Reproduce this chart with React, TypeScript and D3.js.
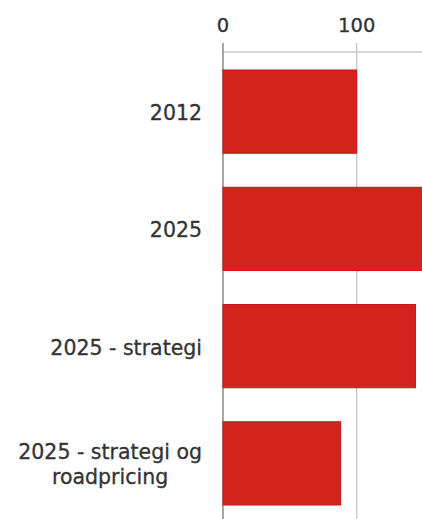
import React, { useEffect, useRef } from 'react';
import * as d3 from 'd3';

const categories = ['2012', '2025', '2025 - strategi', '2025 - strategi og\nroadpricing'];
const values = [100, 152, 144, 88];
const tickValues = [0, 100];
const gridValues = [0, 100, 200];

const App: React.FC = () => {
  const svgRef = useRef<SVGSVGElement | null>(null);

  useEffect(() => {
    if (!svgRef.current) return;
    const svg = d3.select(svgRef.current);
    svg.selectAll('*').remove();

    const width = 422;
    const height = 519;
    const axisY = 52;
    const font = '"DejaVu Sans", Verdana, sans-serif';

    const x = d3.scaleLinear().domain([0, 100]).range([223, 356.7]);
    const y = d3.scaleBand<string>()
      .domain(categories)
      .range([53, 522])
      .paddingInner(0.29)
      .paddingOuter(0.145);

    // axis baseline
    svg.append('line')
      .attr('x1', x(0)).attr('x2', width)
      .attr('y1', axisY).attr('y2', axisY)
      .attr('stroke', '#c8c8c8').attr('stroke-width', 1.5);

    // gridlines / ticks
    svg.selectAll('.grid')
      .data(gridValues)
      .enter()
      .append('line')
      .attr('x1', d => x(d)).attr('x2', d => x(d))
      .attr('y1', axisY - 9).attr('y2', height)
      .attr('stroke', d => (d === 0 ? '#8a8a8a' : '#cccccc'))
      .attr('stroke-width', 1.5);

    svg.selectAll('.tick-label')
      .data(tickValues)
      .enter()
      .append('text')
      .attr('x', d => x(d))
      .attr('y', 32)
      .attr('text-anchor', 'middle')
      .attr('font-family', font)
      .attr('font-size', 19.5)
      .attr('fill', '#333')
      .attr('stroke', '#333')
      .attr('stroke-width', 0.3)
      .text(d => String(d));

    // bars
    svg.selectAll('.bar')
      .data(values)
      .enter()
      .append('rect')
      .attr('x', x(0))
      .attr('y', (_, i) => y(categories[i]) as number)
      .attr('width', d => x(d) - x(0))
      .attr('height', y.bandwidth())
      .attr('fill', '#d2231c')
      .attr('stroke', '#c8161a')
      .attr('stroke-width', 1);

    // category labels, multi-line centred, block right-aligned
    const labelRight = 202;
    const lineH = 25;
    categories.forEach(c => {
      const lines = c.split('\n');
      const cy = (y(c) as number) + y.bandwidth() / 2;
      const t = svg.append('text')
        .attr('text-anchor', 'middle')
        .attr('font-family', font)
        .attr('font-size', 20.5)
        .attr('fill', '#333')
        .attr('stroke', '#333')
        .attr('stroke-width', 0.3);
      lines.forEach((ln, i) => {
        t.append('tspan')
          .attr('x', 0)
          .attr('y', cy + 8.5 + (i - (lines.length - 1) / 2) * lineH)
          .text(ln);
      });
      const bb = (t.node() as SVGTextElement).getBBox();
      t.attr('transform', `translate(${labelRight - (bb.x + bb.width)},0)`);
    });
  }, []);

  return (
    <svg
      ref={svgRef}
      width={422}
      height={519}
      style={{ position: 'absolute', left: 0, top: 0, background: '#fff' }}
    />
  );
};

export default App;
